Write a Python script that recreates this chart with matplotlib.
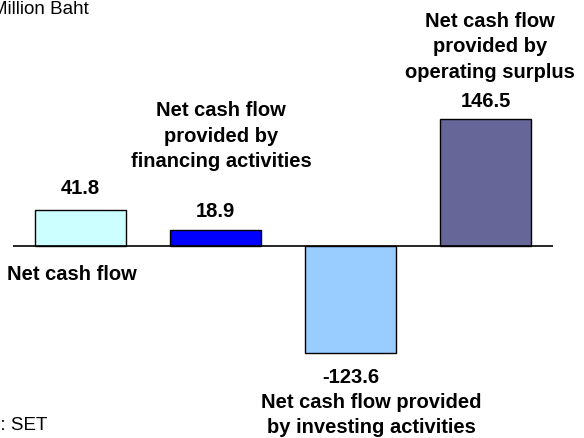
import matplotlib
matplotlib.use('Agg')
import matplotlib.pyplot as plt

# data
categories = ["Net cash flow",
              "Net cash flow\nprovided by\nfinancing activities",
              "Net cash flow provided\nby investing activities",
              "Net cash flow\nprovided by\noperating surplus"]
values = [41.8, 18.9, -123.6, 146.5]
colors = ["#CCFFFF", "#0000FF", "#99CCFF", "#666699"]

W, H = 584, 438
ZERO_PX = 246       # zero line, px from top
SCALE = 0.868       # px per million baht

plt.rcParams['font.family'] = ['Liberation Sans', 'DejaVu Sans']

fig = plt.figure(figsize=(W / 100, H / 100), dpi=100)
ax = fig.add_axes([13 / W, 0, 540 / W, 1])
ax.set_xlim(-0.5, 3.5)
ax.set_ylim(-(H - ZERO_PX) / SCALE, ZERO_PX / SCALE)
ax.axis('off')

x = range(len(values))
ax.bar(x, values, width=0.667, color=colors, edgecolor='black', linewidth=1, zorder=2)
ax.axhline(0, color='black', linewidth=1.2, zorder=3)

# value labels
offsets = [21, 18, -24, 17]
for i, v in enumerate(values):
    ax.annotate(f"{v:.1f}", xy=(i, v), xytext=(0, offsets[i]), textcoords='offset pixels',
                ha='center', va='center', fontsize=14.5, fontweight='bold')


def ftxt(px, py, s, **kw):
    fig.text(px / W, 1 - py / H, s, **kw)


# category labels (px positions of centre)
cat_pos = [(72, 274), (221, 136), (371, 415), (490, 47)]
for (px, py), s in zip(cat_pos, categories):
    ftxt(px, py, s, ha='center', va='center', fontsize=14.5, fontweight='bold',
         multialignment='center', linespacing=1.45)

ftxt(89, 10, "Million Baht", ha='right', va='center', fontsize=13.5)
ftxt(47, 426, "Source: SET", ha='right', va='center', fontsize=13.5)

fig.savefig("out.png", dpi=100)
